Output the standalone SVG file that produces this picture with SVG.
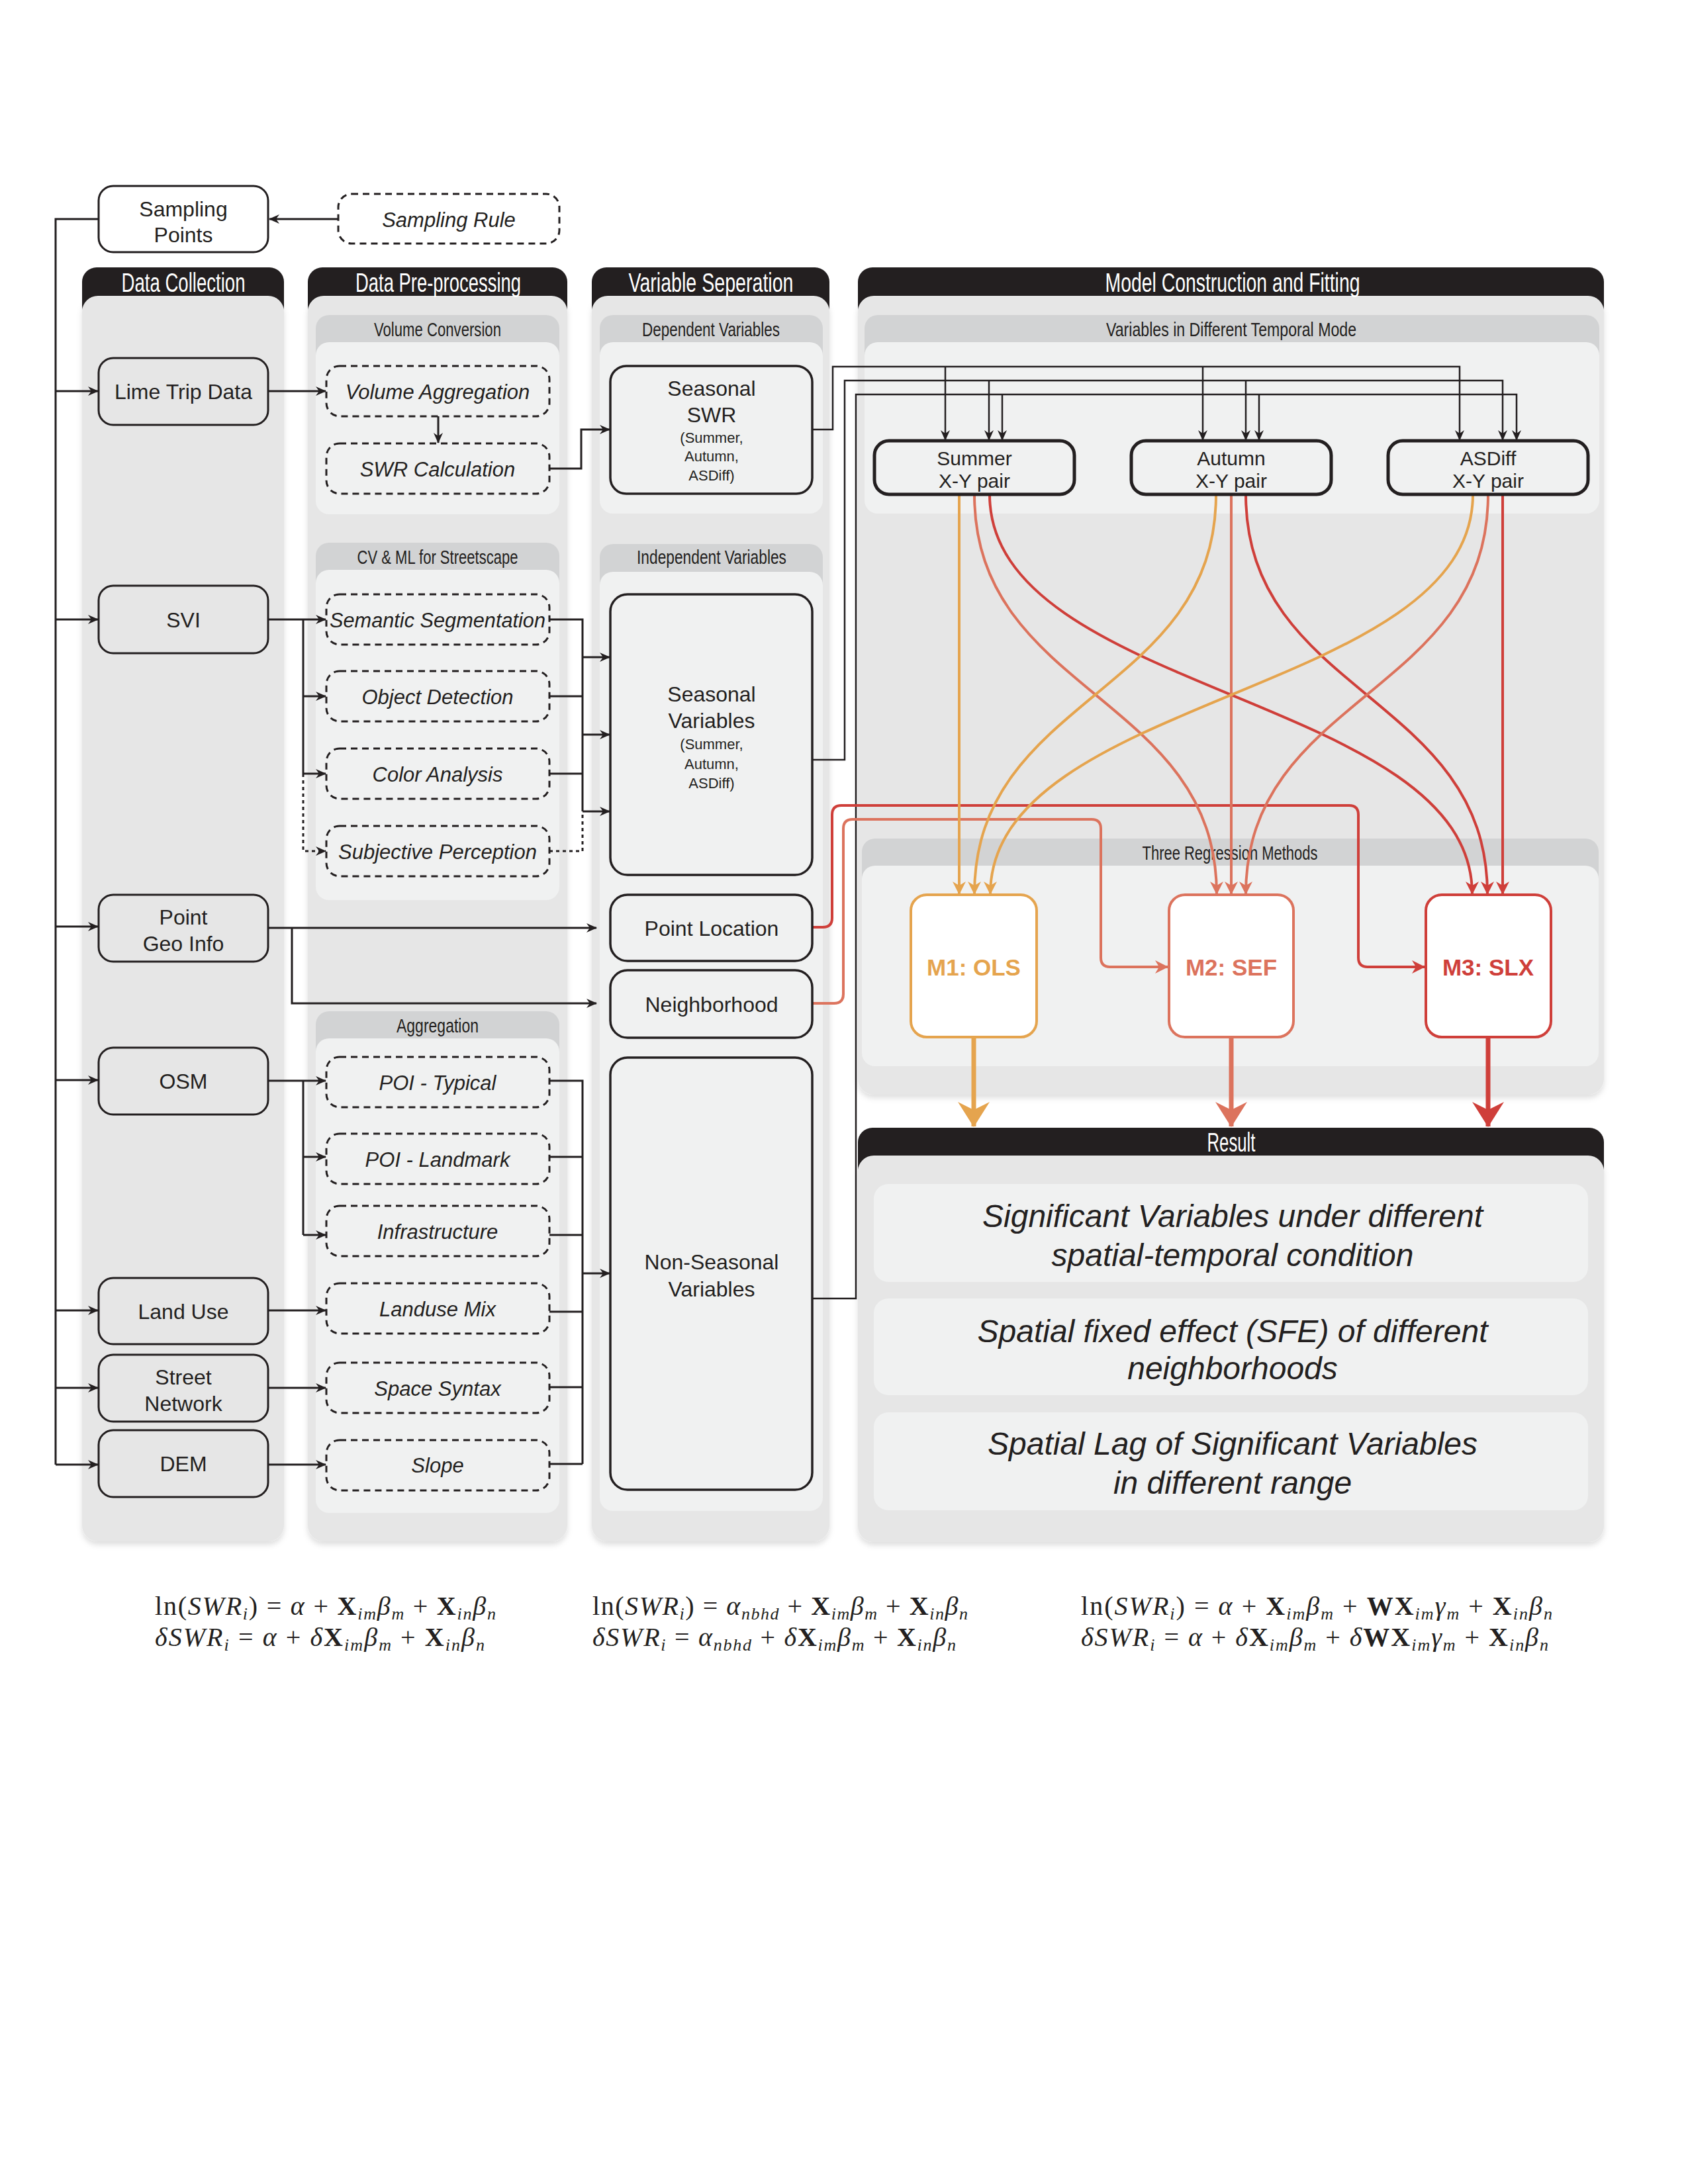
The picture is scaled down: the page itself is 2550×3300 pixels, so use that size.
<svg xmlns="http://www.w3.org/2000/svg" width="2550" height="3300" viewBox="0 0 2550 3300">
<defs>
<style>
.panel{fill:#e6e6e6}
.phead{fill:#231f20}
.shead{fill:#d2d3d4}
.sbody{fill:#f0f1f1}
.box{fill:#e6e6e6;stroke:#231f20;stroke-width:3}
.wbox{fill:#ffffff;stroke:#231f20;stroke-width:3}
.dbox{fill:#f0f1f1;stroke:#231f20;stroke-width:3;stroke-dasharray:10 7}
.vbox{fill:#f0f1f1;stroke:#231f20;stroke-width:3.5}
.pbox{fill:#f0f1f1;stroke:#231f20;stroke-width:5}
.mbox{fill:#ffffff;stroke-width:4}
.t{font-family:"Liberation Sans",Arial,sans-serif;fill:#231f20;text-anchor:middle;font-size:32px}
.ti{font-family:"Liberation Sans",Arial,sans-serif;fill:#231f20;text-anchor:middle;font-size:31px;font-style:italic}
.ts{font-family:"Liberation Sans",Arial,sans-serif;fill:#231f20;text-anchor:middle;font-size:22px}
.hd{font-family:"Liberation Sans",Arial,sans-serif;fill:#ffffff;text-anchor:middle;font-size:40px}
.sh{font-family:"Liberation Sans",Arial,sans-serif;fill:#231f20;text-anchor:middle;font-size:29px}
.mt{font-family:"Liberation Sans",Arial,sans-serif;text-anchor:middle;font-size:35px;font-weight:bold}
.rt{font-family:"Liberation Sans",Arial,sans-serif;fill:#231f20;text-anchor:middle;font-size:48px;font-style:italic}
.c{fill:none;stroke:#231f20;stroke-width:3}
.cth{fill:none;stroke:#231f20;stroke-width:2.5}
.dot{fill:none;stroke:#231f20;stroke-width:3;stroke-dasharray:5 5}
.o{fill:none;stroke:#e5a44e;stroke-width:4}
.k{fill:none;stroke:#dc735d;stroke-width:4}
.r{fill:none;stroke:#cf3f3a;stroke-width:4}
.f{font-family:"Liberation Serif","Times New Roman",serif;fill:#231f20;font-size:40px}
.f .i{font-style:italic}
.f .b{font-weight:bold}
.f .s{font-style:italic;font-size:26px}
</style>
<filter id="shd" x="-5%" y="-5%" width="110%" height="110%">
<feDropShadow dx="0" dy="5" stdDeviation="4" flood-color="#000000" flood-opacity="0.13"/>
</filter>
<marker id="ad" viewBox="0 0 16 14" refX="15" refY="7" markerWidth="16" markerHeight="14" orient="auto" markerUnits="userSpaceOnUse"><path d="M0,0 L16,7 L0,14 L5,7 z" fill="#231f20"/></marker>
<marker id="ao" viewBox="0 0 20 20" refX="19" refY="10" markerWidth="20" markerHeight="20" orient="auto" markerUnits="userSpaceOnUse"><path d="M0,0 L20,10 L0,20 L6,10 z" fill="#e5a44e"/></marker>
<marker id="ak" viewBox="0 0 20 20" refX="19" refY="10" markerWidth="20" markerHeight="20" orient="auto" markerUnits="userSpaceOnUse"><path d="M0,0 L20,10 L0,20 L6,10 z" fill="#dc735d"/></marker>
<marker id="ar" viewBox="0 0 20 20" refX="19" refY="10" markerWidth="20" markerHeight="20" orient="auto" markerUnits="userSpaceOnUse"><path d="M0,0 L20,10 L0,20 L6,10 z" fill="#cf3f3a"/></marker>
<marker id="bo" viewBox="0 0 38 48" refX="37" refY="24" markerWidth="38" markerHeight="48" orient="auto" markerUnits="userSpaceOnUse"><path d="M0,0 L38,24 L0,48 L12,24 z" fill="#e5a44e"/></marker>
<marker id="bk" viewBox="0 0 38 48" refX="37" refY="24" markerWidth="38" markerHeight="48" orient="auto" markerUnits="userSpaceOnUse"><path d="M0,0 L38,24 L0,48 L12,24 z" fill="#dc735d"/></marker>
<marker id="br" viewBox="0 0 38 48" refX="37" refY="24" markerWidth="38" markerHeight="48" orient="auto" markerUnits="userSpaceOnUse"><path d="M0,0 L38,24 L0,48 L12,24 z" fill="#cf3f3a"/></marker>
</defs>
<rect x="0" y="0" width="2550" height="3300" fill="#ffffff"/>

<!-- Panels -->
<g id="panel-data-collection">
<rect class="phead" x="124" y="404" width="305" height="80" rx="22"/>
<rect class="panel" x="124" y="447" width="305" height="1882" rx="24" filter="url(#shd)"/>
<text class="hd" x="277" y="441" textLength="187" lengthAdjust="spacingAndGlyphs">Data Collection</text>
</g>
<g id="panel-preprocessing">
<rect class="phead" x="465" y="404" width="392" height="80" rx="22"/>
<rect class="panel" x="465" y="447" width="392" height="1882" rx="24" filter="url(#shd)"/>
<text class="hd" x="662" y="441" textLength="250" lengthAdjust="spacingAndGlyphs">Data Pre-processing</text>
<rect class="shead" x="477" y="476" width="368" height="80" rx="20"/>
<rect class="sbody" x="477" y="517" width="368" height="260" rx="20"/>
<text class="sh" x="661" y="508" textLength="192" lengthAdjust="spacingAndGlyphs">Volume Conversion</text>
<rect class="shead" x="477" y="820" width="368" height="80" rx="20"/>
<rect class="sbody" x="477" y="861" width="368" height="499" rx="20"/>
<text class="sh" x="661" y="852" textLength="243" lengthAdjust="spacingAndGlyphs">CV &amp; ML for Streetscape</text>
<rect class="shead" x="477" y="1528" width="368" height="80" rx="20"/>
<rect class="sbody" x="477" y="1569" width="368" height="717" rx="20"/>
<text class="sh" x="661" y="1560" textLength="124" lengthAdjust="spacingAndGlyphs">Aggregation</text>
</g>
<g id="panel-variable-separation">
<rect class="phead" x="894" y="404" width="359" height="80" rx="22"/>
<rect class="panel" x="894" y="447" width="359" height="1882" rx="24" filter="url(#shd)"/>
<text class="hd" x="1074" y="441" textLength="249" lengthAdjust="spacingAndGlyphs">Variable Seperation</text>
<rect class="shead" x="906" y="476" width="337" height="80" rx="20"/>
<rect class="sbody" x="906" y="517" width="337" height="259" rx="20"/>
<text class="sh" x="1074" y="508" textLength="208" lengthAdjust="spacingAndGlyphs">Dependent Variables</text>
<rect class="shead" x="906" y="822" width="337" height="80" rx="20"/>
<rect class="sbody" x="906" y="864" width="337" height="1419" rx="20"/>
<text class="sh" x="1075" y="852" textLength="226" lengthAdjust="spacingAndGlyphs">Independent Variables</text>
</g>
<g id="panel-model">
<rect class="phead" x="1296" y="404" width="1127" height="80" rx="22"/>
<rect class="panel" x="1296" y="447" width="1127" height="1207" rx="24" filter="url(#shd)"/>
<text class="hd" x="1862" y="441" textLength="385" lengthAdjust="spacingAndGlyphs">Model Construction and Fitting</text>
<rect class="shead" x="1306" y="476" width="1110" height="80" rx="20"/>
<rect class="sbody" x="1306" y="517" width="1110" height="259" rx="20"/>
<text class="sh" x="1860" y="508" textLength="378" lengthAdjust="spacingAndGlyphs">Variables in Different Temporal Mode</text>
<rect class="shead" x="1302" y="1267" width="1113" height="80" rx="20"/>
<rect class="sbody" x="1302" y="1308" width="1113" height="303" rx="20"/>
<text class="sh" x="1858" y="1299" textLength="265" lengthAdjust="spacingAndGlyphs">Three Regression Methods</text>
</g>
<g id="panel-result">
<rect class="phead" x="1296" y="1704" width="1127" height="80" rx="22"/>
<rect class="panel" x="1296" y="1746" width="1127" height="584" rx="24" filter="url(#shd)"/>
<text class="hd" x="1860" y="1740" textLength="73" lengthAdjust="spacingAndGlyphs">Result</text>
</g>

<!-- Connectors -->
<g id="connectors">
<path class="c" d="M511,331 H407" marker-end="url(#ad)"/>
<path class="c" d="M149,331 H84 V2213"/>
<path class="c" d="M84,591 H148" marker-end="url(#ad)"/>
<path class="c" d="M84,936 H148" marker-end="url(#ad)"/>
<path class="c" d="M84,1400 H148" marker-end="url(#ad)"/>
<path class="c" d="M84,1632 H148" marker-end="url(#ad)"/>
<path class="c" d="M84,1980 H148" marker-end="url(#ad)"/>
<path class="c" d="M84,2097 H148" marker-end="url(#ad)"/>
<path class="c" d="M84,2213 H148" marker-end="url(#ad)"/>
<path class="c" d="M405,591 H492" marker-end="url(#ad)"/>
<path class="c" d="M662,629 V669" marker-end="url(#ad)"/>
<path class="c" d="M830,708 H878 V649 H921" marker-end="url(#ad)"/>
<path class="c" d="M405,936 H492" marker-end="url(#ad)"/>
<path class="c" d="M458,936 V1169"/>
<path class="c" d="M458,1052 H492" marker-end="url(#ad)"/>
<path class="c" d="M458,1169 H492" marker-end="url(#ad)"/>
<path class="dot" d="M458,1169 V1286 H492" marker-end="url(#ad)"/>
<path class="c" d="M830,936 H880 V1226"/>
<path class="c" d="M830,1052 H880"/>
<path class="c" d="M830,1169 H880"/>
<path class="dot" d="M830,1286 H880 V1226"/>
<path class="c" d="M880,993 H921" marker-end="url(#ad)"/>
<path class="c" d="M880,1110 H921" marker-end="url(#ad)"/>
<path class="c" d="M880,1226 H921" marker-end="url(#ad)"/>
<path class="c" d="M405,1402 H901" marker-end="url(#ad)"/>
<path class="c" d="M441,1402 V1516 H901" marker-end="url(#ad)"/>
<path class="c" d="M405,1633 H492" marker-end="url(#ad)"/>
<path class="c" d="M458,1633 V1866"/>
<path class="c" d="M458,1748 H492" marker-end="url(#ad)"/>
<path class="c" d="M458,1866 H492" marker-end="url(#ad)"/>
<path class="c" d="M405,1980 H492" marker-end="url(#ad)"/>
<path class="c" d="M405,2097 H492" marker-end="url(#ad)"/>
<path class="c" d="M405,2213 H492" marker-end="url(#ad)"/>
<path class="c" d="M830,1633 H880 V2212"/>
<path class="c" d="M830,1748 H880"/>
<path class="c" d="M830,1866 H880"/>
<path class="c" d="M830,1982 H880"/>
<path class="c" d="M830,2096 H880"/>
<path class="c" d="M830,2212 H880"/>
<path class="c" d="M880,1924 H921" marker-end="url(#ad)"/>
<path class="cth" d="M1227,649 H1258 V554 H2205 V665" marker-end="url(#ad)"/>
<path class="cth" d="M1428,554 V665" marker-end="url(#ad)"/>
<path class="cth" d="M1817,554 V665" marker-end="url(#ad)"/>
<path class="cth" d="M1227,1148 H1276 V575 H2270 V665" marker-end="url(#ad)"/>
<path class="cth" d="M1494,575 V665" marker-end="url(#ad)"/>
<path class="cth" d="M1882,575 V665" marker-end="url(#ad)"/>
<path class="cth" d="M1227,1962 H1293 V596 H2291 V665" marker-end="url(#ad)"/>
<path class="cth" d="M1514,596 V665" marker-end="url(#ad)"/>
<path class="cth" d="M1902,596 V665" marker-end="url(#ad)"/>
<path class="r" d="M1227,1401 H1243 Q1257,1401 1257,1387 V1231 Q1257,1217 1271,1217 H2038 Q2052,1217 2052,1231 V1447 Q2052,1461 2066,1461 H2152" marker-end="url(#ar)"/>
<path class="k" d="M1227,1516 H1260 Q1274,1516 1274,1502 V1252 Q1274,1238 1288,1238 H1649 Q1663,1238 1663,1252 V1447 Q1663,1461 1677,1461 H1764" marker-end="url(#ak)"/>
<path class="o" d="M1449,747 V1351" marker-end="url(#ao)"/>
<path class="k" d="M1472,747 C1472,1050 1838,1050 1838,1351" marker-end="url(#ak)"/>
<path class="r" d="M1495,747 C1495,1050 2224,1050 2224,1351" marker-end="url(#ar)"/>
<path class="o" d="M1837,747 C1837,1050 1472,1050 1472,1351" marker-end="url(#ao)"/>
<path class="k" d="M1860,747 V1351" marker-end="url(#ak)"/>
<path class="r" d="M1882,747 C1882,1050 2247,1050 2247,1351" marker-end="url(#ar)"/>
<path class="o" d="M2225,747 C2225,1050 1496,1050 1496,1351" marker-end="url(#ao)"/>
<path class="k" d="M2248,747 C2248,1050 1882,1050 1882,1351" marker-end="url(#ak)"/>
<path class="r" d="M2270,747 V1351" marker-end="url(#ar)"/>
<path d="M1471,1567 V1702" fill="none" stroke="#e5a44e" stroke-width="7" marker-end="url(#bo)"/>
<path d="M1860,1567 V1702" fill="none" stroke="#dc735d" stroke-width="7" marker-end="url(#bk)"/>
<path d="M2248,1567 V1702" fill="none" stroke="#cf3f3a" stroke-width="7" marker-end="url(#br)"/>
</g>

<!-- Nodes -->
<g id="sampling-points"><rect class="wbox" x="149" y="281" width="256" height="100" rx="22"/><text class="t" x="277" y="327">Sampling</text><text class="t" x="277" y="366">Points</text></g>
<g id="sampling-rule"><rect class="dbox" x="511" y="293" width="334" height="75" rx="20" style="fill:#ffffff"/><text class="ti" x="678" y="343">Sampling Rule</text></g>

<g id="lime-trip-data"><rect class="box" x="149" y="541" width="256" height="101" rx="22"/><text class="t" x="277" y="603">Lime Trip Data</text></g>
<g id="svi"><rect class="box" x="149" y="885" width="256" height="102" rx="22"/><text class="t" x="277" y="948">SVI</text></g>
<g id="point-geo-info"><rect class="box" x="149" y="1352" width="256" height="101" rx="22"/><text class="t" x="277" y="1397">Point</text><text class="t" x="277" y="1437">Geo Info</text></g>
<g id="osm"><rect class="box" x="149" y="1583" width="256" height="101" rx="22"/><text class="t" x="277" y="1645">OSM</text></g>
<g id="land-use"><rect class="box" x="149" y="1931" width="256" height="100" rx="22"/><text class="t" x="277" y="1993">Land Use</text></g>
<g id="street-network"><rect class="box" x="149" y="2047" width="256" height="101" rx="22"/><text class="t" x="277" y="2092">Street</text><text class="t" x="277" y="2132">Network</text></g>
<g id="dem"><rect class="box" x="149" y="2161" width="256" height="101" rx="22"/><text class="t" x="277" y="2223">DEM</text></g>

<g id="volume-aggregation"><rect class="dbox" x="493" y="553" width="337" height="76" rx="20"/><text class="ti" x="661" y="603">Volume Aggregation</text></g>
<g id="swr-calculation"><rect class="dbox" x="493" y="670" width="337" height="76" rx="20"/><text class="ti" x="661" y="720">SWR Calculation</text></g>
<g id="semantic-segmentation"><rect class="dbox" x="493" y="898" width="337" height="76" rx="20"/><text class="ti" x="661" y="948" textLength="326" lengthAdjust="spacingAndGlyphs">Semantic Segmentation</text></g>
<g id="object-detection"><rect class="dbox" x="493" y="1014" width="337" height="76" rx="20"/><text class="ti" x="661" y="1064">Object Detection</text></g>
<g id="color-analysis"><rect class="dbox" x="493" y="1131" width="337" height="76" rx="20"/><text class="ti" x="661" y="1181">Color Analysis</text></g>
<g id="subjective-perception"><rect class="dbox" x="493" y="1248" width="337" height="76" rx="20"/><text class="ti" x="661" y="1298">Subjective Perception</text></g>
<g id="poi-typical"><rect class="dbox" x="493" y="1597" width="337" height="76" rx="20"/><text class="ti" x="661" y="1647">POI - Typical</text></g>
<g id="poi-landmark"><rect class="dbox" x="493" y="1713" width="337" height="76" rx="20"/><text class="ti" x="661" y="1763">POI - Landmark</text></g>
<g id="infrastructure"><rect class="dbox" x="493" y="1822" width="337" height="76" rx="20"/><text class="ti" x="661" y="1872">Infrastructure</text></g>
<g id="landuse-mix"><rect class="dbox" x="493" y="1939" width="337" height="76" rx="20"/><text class="ti" x="661" y="1989">Landuse Mix</text></g>
<g id="space-syntax"><rect class="dbox" x="493" y="2059" width="337" height="76" rx="20"/><text class="ti" x="661" y="2109">Space Syntax</text></g>
<g id="slope"><rect class="dbox" x="493" y="2176" width="337" height="76" rx="20"/><text class="ti" x="661" y="2225">Slope</text></g>

<g id="seasonal-swr"><rect class="vbox" x="922" y="553" width="305" height="193" rx="24"/><text class="t" x="1075" y="598">Seasonal</text><text class="t" x="1075" y="638">SWR</text><text class="ts" x="1075" y="669">(Summer,</text><text class="ts" x="1075" y="697">Autumn,</text><text class="ts" x="1075" y="726">ASDiff)</text></g>
<g id="seasonal-variables"><rect class="vbox" x="922" y="898" width="305" height="424" rx="26"/><text class="t" x="1075" y="1060">Seasonal</text><text class="t" x="1075" y="1100">Variables</text><text class="ts" x="1075" y="1132">(Summer,</text><text class="ts" x="1075" y="1162">Autumn,</text><text class="ts" x="1075" y="1191">ASDiff)</text></g>
<g id="point-location"><rect class="vbox" x="922" y="1352" width="305" height="100" rx="26"/><text class="t" x="1075" y="1414">Point Location</text></g>
<g id="neighborhood"><rect class="vbox" x="922" y="1466" width="305" height="102" rx="26"/><text class="t" x="1075" y="1529">Neighborhood</text></g>
<g id="non-seasonal-variables"><rect class="vbox" x="922" y="1598" width="305" height="653" rx="26"/><text class="t" x="1075" y="1918">Non-Seasonal</text><text class="t" x="1075" y="1959">Variables</text></g>

<g id="summer-pair"><rect class="pbox" x="1321" y="666" width="302" height="81" rx="22"/><text class="t" x="1472" y="703" style="font-size:30px">Summer</text><text class="t" x="1472" y="737" style="font-size:30px">X-Y pair</text></g>
<g id="autumn-pair"><rect class="pbox" x="1709" y="666" width="302" height="81" rx="22"/><text class="t" x="1860" y="703" style="font-size:30px">Autumn</text><text class="t" x="1860" y="737" style="font-size:30px">X-Y pair</text></g>
<g id="asdiff-pair"><rect class="pbox" x="2097" y="666" width="302" height="81" rx="22"/><text class="t" x="2248" y="703" style="font-size:30px">ASDiff</text><text class="t" x="2248" y="737" style="font-size:30px">X-Y pair</text></g>

<g id="m1-ols"><rect class="mbox" x="1376" y="1352" width="190" height="215" rx="24" stroke="#e5a44e"/><text class="mt" x="1471" y="1474" fill="#e5a44e">M1: OLS</text></g>
<g id="m2-sef"><rect class="mbox" x="1766" y="1352" width="188" height="215" rx="24" stroke="#dc735d"/><text class="mt" x="1860" y="1474" fill="#dc735d">M2: SEF</text></g>
<g id="m3-slx"><rect class="mbox" x="2154" y="1352" width="189" height="215" rx="24" stroke="#cf3f3a"/><text class="mt" x="2248" y="1474" fill="#cf3f3a">M3: SLX</text></g>

<g id="result-1"><rect class="sbody" x="1320" y="1789" width="1079" height="148" rx="22"/><text class="rt" x="1862" y="1854">Significant Variables under different</text><text class="rt" x="1862" y="1913">spatial-temporal condition</text></g>
<g id="result-2"><rect class="sbody" x="1320" y="1962" width="1079" height="146" rx="22"/><text class="rt" x="1862" y="2028">Spatial fixed effect (SFE) of different</text><text class="rt" x="1862" y="2084">neighborhoods</text></g>
<g id="result-3"><rect class="sbody" x="1320" y="2134" width="1079" height="148" rx="22"/><text class="rt" x="1862" y="2198">Spatial Lag of Significant Variables</text><text class="rt" x="1862" y="2257">in different range</text></g>

<!-- Formulas -->
<g id="formula-ols">
<text class="f" x="234" y="2440" textLength="515">ln(<tspan class="i">SWR</tspan><tspan class="s" dy="7">i</tspan><tspan dy="-7">) = </tspan><tspan class="i">α</tspan> + <tspan class="b">X</tspan><tspan class="s" dy="7">im</tspan><tspan class="i" dy="-7">β</tspan><tspan class="s" dy="7">m</tspan><tspan dy="-7"> + </tspan><tspan class="b">X</tspan><tspan class="s" dy="7">in</tspan><tspan class="i" dy="-7">β</tspan><tspan class="s" dy="7">n</tspan></text>
<text class="f" x="234" y="2487" textLength="498"><tspan class="i">δSWR</tspan><tspan class="s" dy="7">i</tspan><tspan dy="-7"> = </tspan><tspan class="i">α</tspan> + <tspan class="i">δ</tspan><tspan class="b">X</tspan><tspan class="s" dy="7">im</tspan><tspan class="i" dy="-7">β</tspan><tspan class="s" dy="7">m</tspan><tspan dy="-7"> + </tspan><tspan class="b">X</tspan><tspan class="s" dy="7">in</tspan><tspan class="i" dy="-7">β</tspan><tspan class="s" dy="7">n</tspan></text>
</g>
<g id="formula-sef">
<text class="f" x="895" y="2440" textLength="567">ln(<tspan class="i">SWR</tspan><tspan class="s" dy="7">i</tspan><tspan dy="-7">) = </tspan><tspan class="i">α</tspan><tspan class="s" dy="7">nbhd</tspan><tspan dy="-7"> + </tspan><tspan class="b">X</tspan><tspan class="s" dy="7">im</tspan><tspan class="i" dy="-7">β</tspan><tspan class="s" dy="7">m</tspan><tspan dy="-7"> + </tspan><tspan class="b">X</tspan><tspan class="s" dy="7">in</tspan><tspan class="i" dy="-7">β</tspan><tspan class="s" dy="7">n</tspan></text>
<text class="f" x="895" y="2487" textLength="549"><tspan class="i">δSWR</tspan><tspan class="s" dy="7">i</tspan><tspan dy="-7"> = </tspan><tspan class="i">α</tspan><tspan class="s" dy="7">nbhd</tspan><tspan dy="-7"> + </tspan><tspan class="i">δ</tspan><tspan class="b">X</tspan><tspan class="s" dy="7">im</tspan><tspan class="i" dy="-7">β</tspan><tspan class="s" dy="7">m</tspan><tspan dy="-7"> + </tspan><tspan class="b">X</tspan><tspan class="s" dy="7">in</tspan><tspan class="i" dy="-7">β</tspan><tspan class="s" dy="7">n</tspan></text>
</g>
<g id="formula-slx">
<text class="f" x="1633" y="2440" textLength="712">ln(<tspan class="i">SWR</tspan><tspan class="s" dy="7">i</tspan><tspan dy="-7">) = </tspan><tspan class="i">α</tspan> + <tspan class="b">X</tspan><tspan class="s" dy="7">im</tspan><tspan class="i" dy="-7">β</tspan><tspan class="s" dy="7">m</tspan><tspan dy="-7"> + </tspan><tspan class="b">WX</tspan><tspan class="s" dy="7">im</tspan><tspan class="i" dy="-7">γ</tspan><tspan class="s" dy="7">m</tspan><tspan dy="-7"> + </tspan><tspan class="b">X</tspan><tspan class="s" dy="7">in</tspan><tspan class="i" dy="-7">β</tspan><tspan class="s" dy="7">n</tspan></text>
<text class="f" x="1633" y="2487" textLength="706"><tspan class="i">δSWR</tspan><tspan class="s" dy="7">i</tspan><tspan dy="-7"> = </tspan><tspan class="i">α</tspan> + <tspan class="i">δ</tspan><tspan class="b">X</tspan><tspan class="s" dy="7">im</tspan><tspan class="i" dy="-7">β</tspan><tspan class="s" dy="7">m</tspan><tspan dy="-7"> + </tspan><tspan class="i">δ</tspan><tspan class="b">WX</tspan><tspan class="s" dy="7">im</tspan><tspan class="i" dy="-7">γ</tspan><tspan class="s" dy="7">m</tspan><tspan dy="-7"> + </tspan><tspan class="b">X</tspan><tspan class="s" dy="7">in</tspan><tspan class="i" dy="-7">β</tspan><tspan class="s" dy="7">n</tspan></text>
</g>
</svg>
